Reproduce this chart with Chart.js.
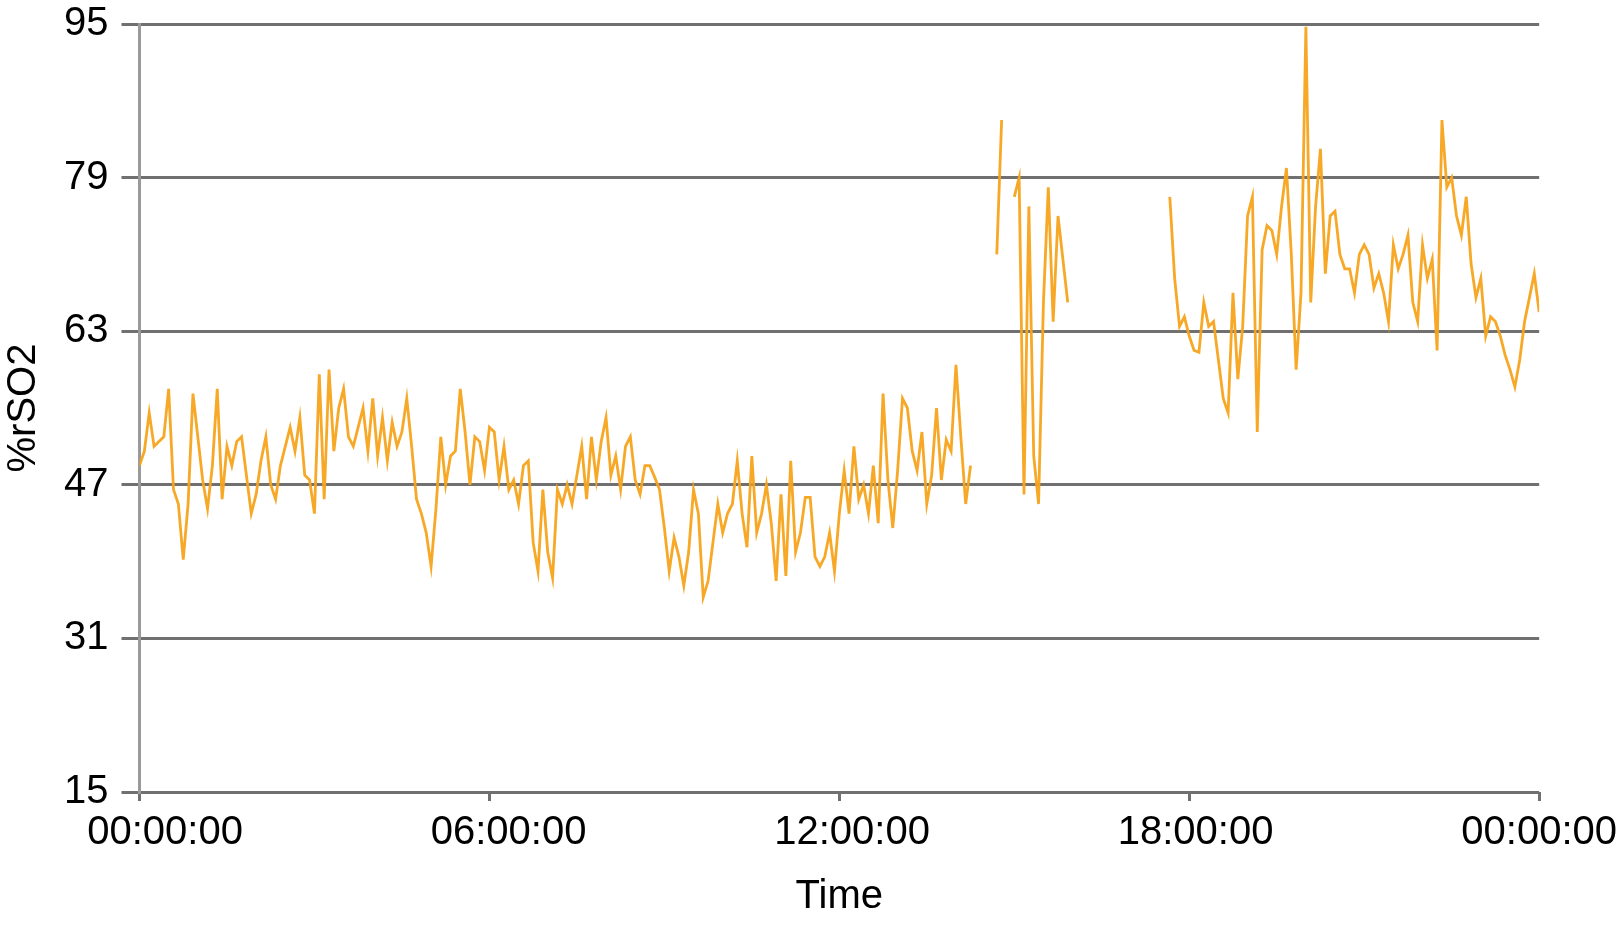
<!DOCTYPE html>
<html>
<head>
<meta charset="utf-8">
<title>%rSO2 over 24 h</title>
<script src="https://cdn.jsdelivr.net/npm/chart.js@4.4.1/dist/chart.umd.min.js"></script>
<style>
    html, body { margin: 0; padding: 0; background: #fff; }
    #wrap { width: 1617px; height: 928px; }
</style>
</head>
<body>
<div id="wrap"><canvas id="rso2Chart"></canvas></div>
<script>
const SAMPLE_MIN = 5;

// recorded pieces: start in minutes after midnight, then one reading every 5 min
const seg1Start = 0;
const seg1 = [
    49, 50.5, 54.5, 51, 51.5, 52, 57, 46.5, 45, 39.2,
    45, 56.5, 52, 47.5, 44.5, 49, 57, 45.5, 51, 49,
    51.5, 52, 48, 44, 46, 49.5, 52, 47, 45.5, 49,
    51, 53, 50.5, 54, 48, 47.5, 44, 58.5, 45.5, 59,
    50.5, 55, 57, 52, 51, 53, 55, 50.5, 56, 50,
    54, 49.5, 53.5, 51, 52.5, 56, 51, 45.5, 44, 42,
    38.5, 44.5, 52, 47, 50, 50.5, 57, 52.5, 47, 52,
    51.5, 48.5, 53, 52.5, 47.5, 51, 46.5, 47.5, 45, 49,
    49.5, 41, 38, 46.5, 40, 37.3, 46.5, 45, 47, 45,
    48, 51, 45.5, 52, 47.5, 51.5, 54, 48, 50, 46.5,
    51, 52, 47.5, 46, 49, 49, 47.8, 46.5, 42.5, 38,
    41.5, 39.5, 36.5, 40, 46.5, 44, 35.3, 37, 41, 45,
    42, 44, 45, 49.5, 44, 40.5, 50, 42, 44, 47,
    43, 37, 46, 37.5, 49.5, 40, 42, 45.7, 45.7, 39.5,
    38.5, 39.5, 42, 38, 44, 48.5, 44, 51, 45.5, 47,
    44, 49, 43, 56.5, 47.5, 42.5, 48.5, 56, 55, 50.5,
    48.5, 52.5, 45, 48, 55, 47.5, 51.7, 50.5, 59.5, 52,
    45, 49
];
const seg2Start = 882;
const seg2 = [71, 85];
const seg3Start = 900;
const seg3 = [77, 79, 46, 76, 50, 45, 66, 78, 64, 75, 70.5, 66];
const seg4Start = 1060;
const seg4 = [
    77, 68.5, 63.5, 64.5, 62.5, 61, 60.8, 66, 63.5, 64,
    60, 56, 54.5, 67, 58, 63.5, 75, 77, 52.5, 71.5,
    74, 73.5, 71, 76, 80, 71, 59, 67, 94.7, 66,
    76, 82, 69, 75, 75.5, 71, 69.5, 69.5, 67, 71,
    72, 71, 67.5, 69, 67, 64, 72, 69.5, 71, 73,
    66, 64, 72, 68.5, 70.5, 61, 85, 78, 79, 75,
    73, 77, 70, 66.5, 68.5, 62.5, 64.5, 64, 62.5, 60.5,
    59, 57.2, 60, 64, 66.5, 69, 65
];

const xTickHours = [0, 6, 12, 18, 24];
const xTickLabels = ['00:00:00', '06:00:00', '12:00:00', '18:00:00', '00:00:00'];

const FONT = "'Liberation Sans', Arial, Helvetica, sans-serif";
const GRID = '#707070';

function buildPoints() {
    const pts = [];
    [[seg1Start, seg1], [seg2Start, seg2], [seg3Start, seg3], [seg4Start, seg4]].forEach(([start, vals]) => {
        vals.forEach((v, i) => pts.push({ x: (start + i * SAMPLE_MIN) / 60, y: v }));
        pts.push({ x: (start + vals.length * SAMPLE_MIN) / 60, y: null }); // break the line
    });
    pts.pop();
    return pts;
}

const ctx = document.getElementById('rso2Chart').getContext('2d');
new Chart(ctx, {
    type: 'line',
    data: {
        datasets: [{
            label: '%rSO2',
            data: buildPoints(),
            borderColor: 'rgba(247, 163, 26, 0.95)',
            borderWidth: 2.8,
            pointRadius: 0,
            tension: 0,
            spanGaps: false
        }]
    },
    options: {
        responsive: true,
        maintainAspectRatio: false,
        animation: false,
        layout: { padding: 0 },
        plugins: { legend: { display: false }, tooltip: { enabled: false } },
        scales: {
            x: {
                type: 'linear',
                min: 0,
                max: 24,
                afterBuildTicks: scale => { scale.ticks = xTickHours.map(v => ({ value: v })); },
                afterFit: scale => { scale.height += 8; }, // gap between tick marks and labels
                ticks: { display: false },
                grid: { drawOnChartArea: false, drawTicks: true, tickLength: 9, color: GRID, lineWidth: 3 },
                border: { display: false }
            },
            // label row: the source spaces its time labels slightly differently from its tick marks
            xLabels: {
                type: 'linear',
                position: 'bottom',
                min: -0.446,
                max: 24,
                afterBuildTicks: scale => { scale.ticks = xTickHours.map(v => ({ value: v })); },
                ticks: {
                    autoSkip: false,
                    maxRotation: 0,
                    padding: 0,
                    color: '#000',
                    font: { family: FONT, size: 40 },
                    callback: (v, i) => xTickLabels[i]
                },
                grid: { display: false, drawTicks: false },
                border: { display: false },
                title: {
                    display: true,
                    text: 'Time',
                    color: '#000',
                    font: { family: FONT, size: 40 },
                    padding: { top: 16, bottom: 7 }
                }
            },
            y: {
                min: 15,
                max: 95,
                ticks: {
                    stepSize: 16,
                    padding: 13,
                    color: '#000',
                    // small line height keeps the plot top at the 95 label's centre
                    font: { family: FONT, size: 40, lineHeight: 0.55 }
                },
                grid: { color: GRID, lineWidth: 3, tickLength: 18 },
                border: { color: '#9a9a9a', width: 3 },
                title: {
                    display: true,
                    text: '%rSO2',
                    color: '#000',
                    font: { family: FONT, size: 40 },
                    padding: { top: 0, bottom: 3 }
                }
            }
        }
    }
});
</script>
</body>
</html>
